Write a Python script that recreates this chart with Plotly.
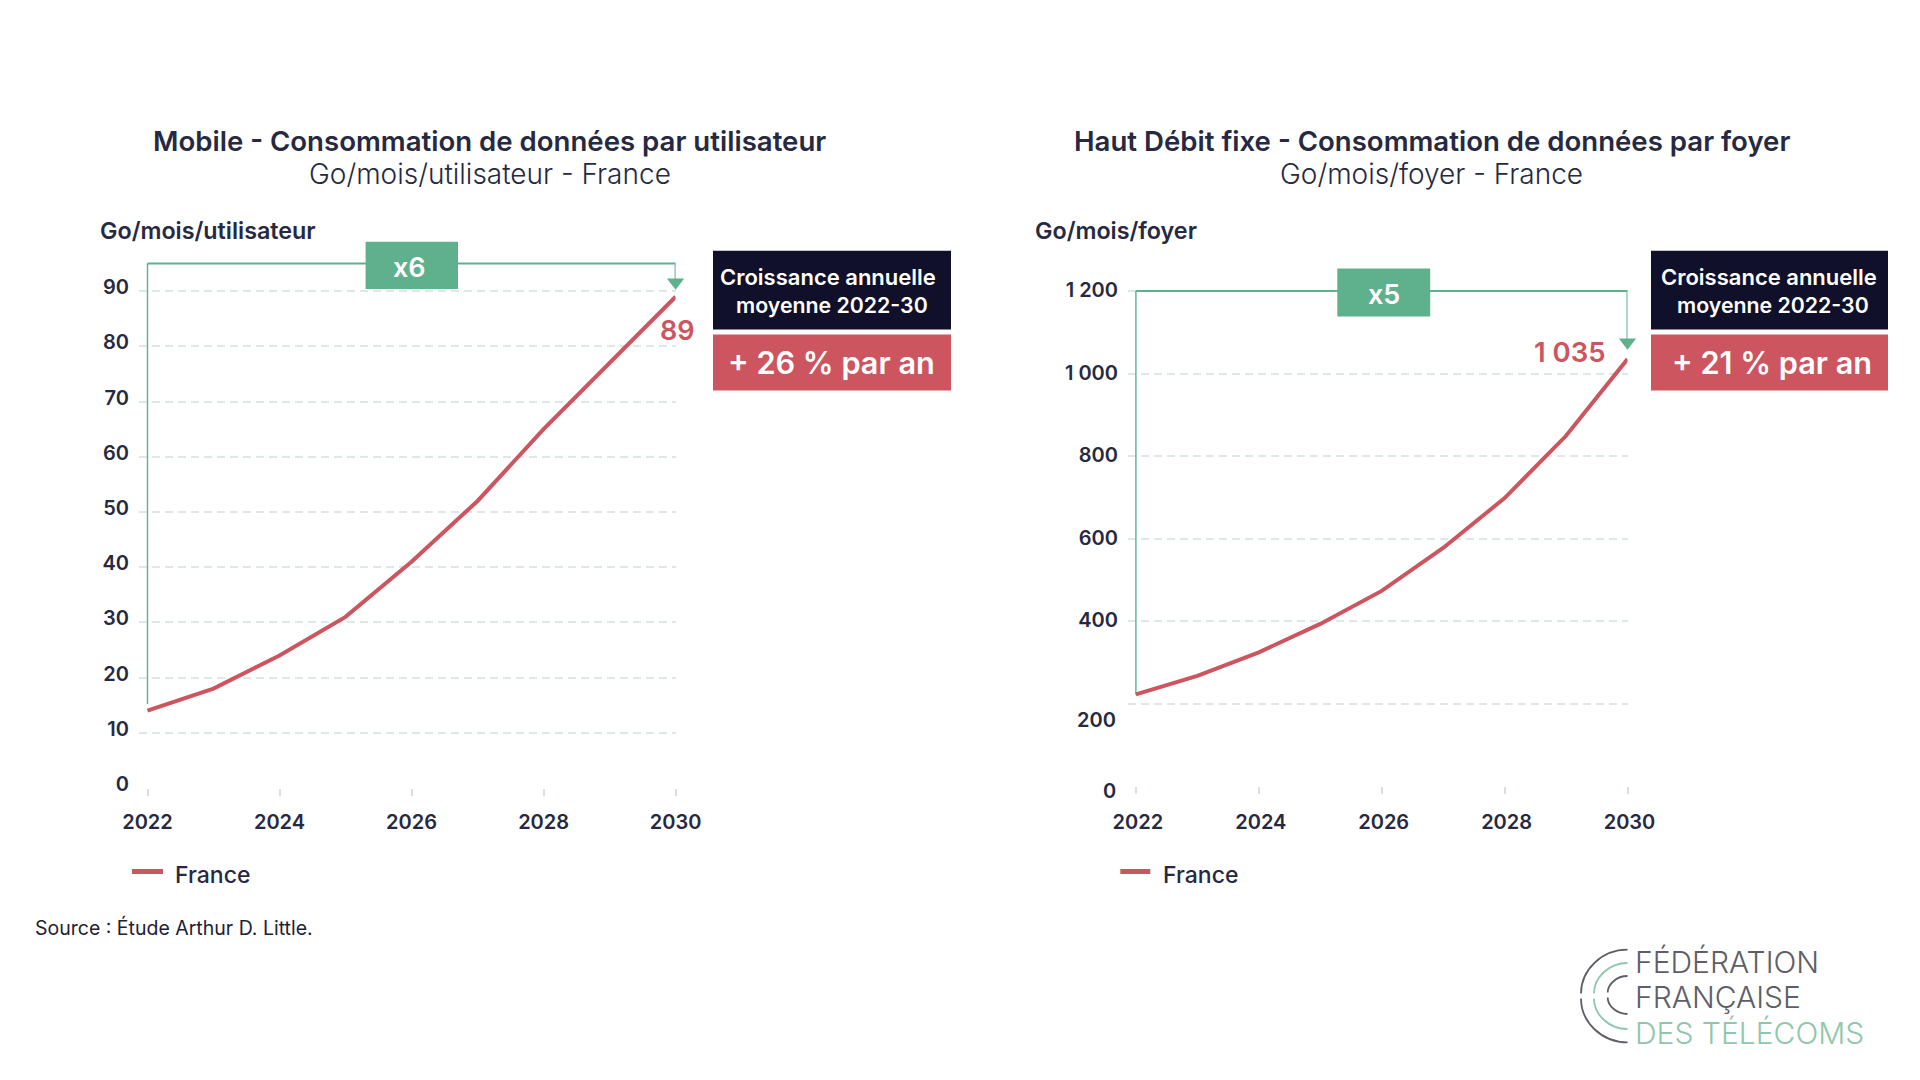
import plotly.graph_objects as go

# ---------- data ----------
years = [2022, 2023, 2024, 2025, 2026, 2027, 2028, 2029, 2030]
mobile = [14, 18, 24, 31, 41, 52, 65, 77, 89]
fixe = [222, 267, 324, 393, 473, 577, 698, 849, 1035]
year_ticks = [2022, 2024, 2026, 2028, 2030]
mobile_ticks = [0, 10, 20, 30, 40, 50, 60, 70, 80, 90]
fixe_ticks = [0, 200, 400, 600, 800, 1000, 1200]
fixe_ticktext = ["0", "200", "400", "600", "800", "1 000", "1 200"]

# ---------- style ----------
W, H = 1920, 1080
FONT = "Inter"
DARK = "#262940"
RED = "#CC5560"
GREEN = "#5FB18D"
NAVY = "#10102A"
GRID = "#DFE8E8"
LOGO_GRAY = "#5E5E68"
LOGO_GREEN = "#8FC7AC"


def px(x):
    return x / W


def py(y):
    return 1 - y / H


fig = go.Figure()

panels = [
    dict(s="", vals=mobile, ymax=(788 - 240) / 5.52, top=95, bottom=15.2, tip=91.6),
    dict(s="2", vals=fixe, ymax=(786 - 240) / 0.4125, top=1200, bottom=222, tip=1076),
]

for p in panels:
    xa, ya = "x" + p["s"], "y" + p["s"]
    fig.add_trace(go.Scatter(x=[2022, 2022], y=[p["bottom"], p["top"]], xaxis=xa, yaxis=ya, mode="lines",
                             line=dict(color=GREEN, width=1.4), showlegend=False, hoverinfo="skip"))
    fig.add_trace(go.Scatter(x=[2022, 2030, 2030], y=[p["top"], p["top"], p["tip"]], xaxis=xa, yaxis=ya,
                             mode="lines", line=dict(color=GREEN, width=2), showlegend=False, hoverinfo="skip"))
    fig.add_trace(go.Scatter(x=[2030], y=[p["tip"]], xaxis=xa, yaxis=ya, mode="markers", cliponaxis=False,
                             marker=dict(symbol="triangle-down", size=15, color=GREEN, line=dict(width=0)),
                             showlegend=False, hoverinfo="skip"))
    fig.add_trace(go.Scatter(x=years, y=p["vals"], xaxis=xa, yaxis=ya, mode="lines", name="France",
                             cliponaxis=False, showlegend=False, line=dict(color=RED, width=4)))

TICK_FONT = dict(family=FONT, size=20, color=DARK, weight=600)
common_x = dict(tickmode="array", tickvals=year_ticks, showgrid=False, zeroline=False, showline=False,
                ticks="outside", ticklen=7, tickwidth=1.5, tickcolor="#D5E1E3", ticklabelstandoff=9,
                tickangle=0, tickfont=TICK_FONT)
common_y = dict(tickmode="array", showgrid=True, gridcolor=GRID, gridwidth=1.6, griddash="8px,5px",
                zeroline=False, showline=False, ticks="", tickfont=TICK_FONT)


def xrange_for(dom, x0_px, per_year):
    return [2022 - (x0_px - dom[0]) / per_year, 2030]


fig.update_layout(
    width=W, height=H, autosize=False, margin=dict(l=0, r=0, t=0, b=0, pad=0, autoexpand=False),
    paper_bgcolor="white", plot_bgcolor="white", hovermode=False, showlegend=False,
    xaxis=dict(common_x, domain=[px(139), px(675.6)], range=xrange_for((139, 675.6), 147.5, 66.0), anchor="y"),
    yaxis=dict(common_y, domain=[py(788), py(240)], range=[0, panels[0]["ymax"]], anchor="x",
               tickvals=mobile_ticks, ticktext=[str(v) for v in mobile_ticks],
               ticklabelshift=-4, ticklabelstandoff=9),
    xaxis2=dict(common_x, domain=[px(1128), px(1627.5)], range=xrange_for((1128, 1627.5), 1135.9, 61.45),
                anchor="y2", ticklabelshift=2, ticklabelstandoff=11),
    yaxis2=dict(common_y, domain=[py(786), py(240)], range=[0, panels[1]["ymax"]], anchor="x2",
                tickvals=fixe_ticks, ticktext=["", ""] + fixe_ticktext[2:],
                ticklabelshift=-1, ticklabelstandoff=9),
)


def text(t, x, y, size, color=DARK, weight=400, anchor="center"):
    fig.add_annotation(xref="paper", yref="paper", x=px(x), y=py(y), text=t, showarrow=False,
                       xanchor=anchor, yanchor="middle", align=anchor if anchor != "center" else "center",
                       font=dict(family=FONT, size=size, color=color, weight=weight), borderpad=0)


def box(x0, y0, x1, y1, color):
    fig.add_shape(type="rect", xref="paper", yref="paper", x0=px(x0), x1=px(x1), y0=py(y0), y1=py(y1),
                  fillcolor=color, line=dict(width=0), layer="above")


box(365.6, 241.8, 458, 289, GREEN)
box(1337.3, 268.6, 1430.2, 316.4, GREEN)
box(713, 250.7, 951, 329.6, NAVY)
box(713, 334.6, 951, 390.4, RED)
box(1651, 250.7, 1888, 329.6, NAVY)
box(1651, 334.6, 1888, 390.4, RED)

# titles
text("Mobile - Consommation de données par utilisateur", 489, 141, 27.6, weight=600)
text("Go/mois/utilisateur - France", 489.7, 174, 28, weight=300)
text("Haut Débit fixe - Consommation de données par foyer", 1431.5, 141, 27.6, weight=600)
text("Go/mois/foyer - France", 1431, 174, 28, weight=300)
text("Go/mois/utilisateur", 99, 230, 23.3, weight=600, anchor="left")
text("Go/mois/foyer", 1034, 230, 23.3, weight=600, anchor="left")

# multipliers and end labels
text("x6", 409, 268, 27, "white", 600)
text("x5", 1383.5, 294.6, 27, "white", 600)
text("89", 677, 330, 27, RED, 600)
text("1 035", 1570, 352.5, 27.5, RED, 600)

# growth boxes
for cx, growth in [(830, "+ 26 % par an"), (1771, "+ 21 % par an")]:
    text("Croissance annuelle", cx - 2, 276.5, 22, "white", 600)
    text("moyenne 2022-30", cx + 1.5, 304.6, 21.3, "white", 600)
    text(growth, cx + 1, 362.6, 30.7, "white", 600)

# hand-placed low tick labels of the right axis
fig.add_annotation(xref="paper", yref="y2", x=px(1117.5), y=200, yshift=-16, text="200", showarrow=False,
                   xanchor="right", font=TICK_FONT)
fig.add_annotation(xref="paper", yref="y2", x=px(1117.5), y=0, yshift=-5, text="0", showarrow=False,
                   xanchor="right", font=TICK_FONT)

# legend keys
for x0, x1, xt in [(132, 163, 173.5), (1120.3, 1150.3, 1161.5)]:
    fig.add_shape(type="line", xref="paper", yref="paper", x0=px(x0), x1=px(x1), y0=py(871.5), y1=py(871.5),
                  line=dict(color=RED, width=5))
    text("France", xt, 874.5, 23, DARK, 500, anchor="left")

# source
text("Source : Étude Arthur D. Little.", 34, 927.5, 19.5, "#1E2036", 400, anchor="left")

# logo
text("FÉDÉRATION", 1634, 962, 30, LOGO_GRAY, 300, anchor="left")
text("FRANÇAISE", 1634, 997, 30, LOGO_GRAY, 300, anchor="left")
text("DES TÉLÉCOMS", 1634, 1033, 30, LOGO_GREEN, 300, anchor="left")


def arc(xl, xr, ytop, ybot, color, gap=2.5):
    ym = (ytop + ybot) / 2
    k = 0.56
    w, h = xr - xl, (ybot - ytop) / 2
    for sign, yend in [(-1, ytop), (1, ybot)]:
        y0 = ym + sign * gap
        c1 = (xl, ym + sign * h * k)
        c2 = (xr - w * k, yend)
        path = f"M {px(xl)} {py(y0)} C {px(c1[0])} {py(c1[1])} {px(c2[0])} {py(c2[1])} {px(xr)} {py(yend)}"
        fig.add_shape(type="path", xref="paper", yref="paper", path=path, line=dict(color=color, width=1.8))


arc(1581, 1627.5, 949.7, 1042.4, LOGO_GRAY)
arc(1594, 1627.5, 963, 1029, LOGO_GREEN)
arc(1607.7, 1627.5, 976, 1014, LOGO_GRAY)

fig.write_html("out.html", config={"displayModeBar": False},
               post_script="document.body.style.margin='0';document.body.style.overflow='hidden';")
